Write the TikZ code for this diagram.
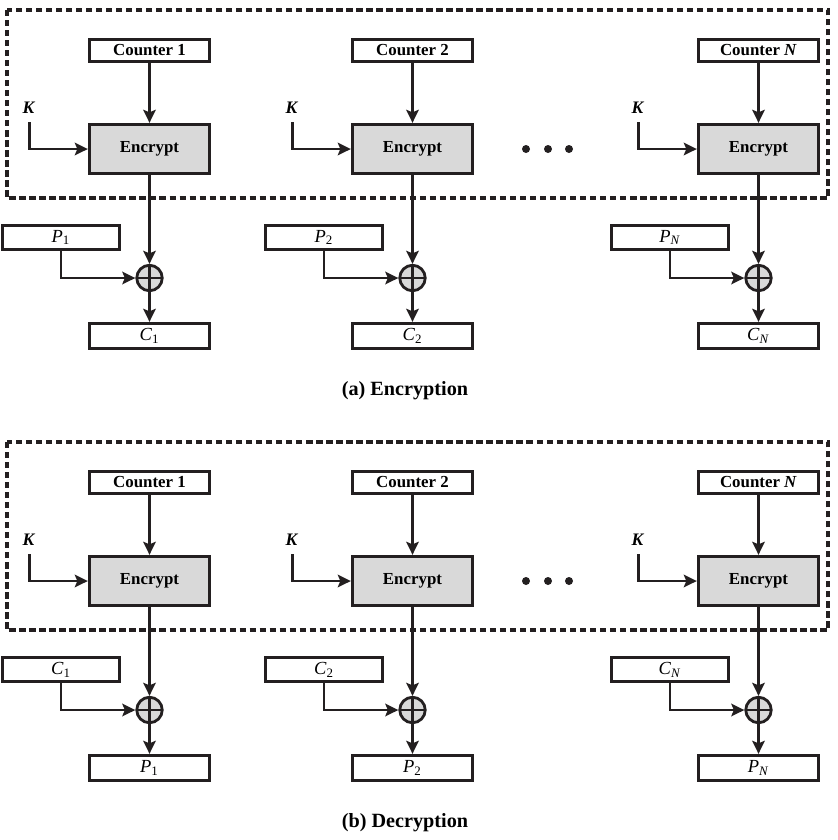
\documentclass[tikz,border=0pt]{standalone}
\usepackage{fontspec}
\setmainfont{Liberation Serif}
\usetikzlibrary{arrows.meta}
\definecolor{ink}{HTML}{231F20}
\definecolor{boxgray}{HTML}{D9D9D9}
\begin{document}
\begin{tikzpicture}[x=0.02cm,y=-0.02cm,
  box/.style={draw=ink,line width=1.9pt,fill=white,inner sep=0pt,minimum width=2.4cm,minimum height=0.45cm,font=\fontsize{9.6}{11}\selectfont\bfseries},
  encbox/.style={box,fill=boxgray,minimum height=0.98cm},
  inbox/.style={box,minimum width=2.35cm,minimum height=0.48cm,font=\fontsize{10.5}{12}\selectfont},
  outbox/.style={box,minimum height=0.5cm,font=\fontsize{10.5}{12}\selectfont},
  xorc/.style={circle,draw=ink,line width=1.6pt,fill=boxgray,minimum size=0.51cm,inner sep=0pt,
    path picture={\draw[ink,line width=1.6pt] (path picture bounding box.north) -- (path picture bounding box.south) (path picture bounding box.west) -- (path picture bounding box.east);}},
  arr/.style={draw=ink,line width=1.5pt,-{Stealth[length=2.6mm,width=2.5mm,inset=0.5mm]}},
  frame/.style={draw=ink,line width=2pt,dash pattern=on 3.6pt off 2.1pt},
  klab/.style={font=\fontsize{10}{12}\selectfont\bfseries\itshape,inner sep=0pt},
  captext/.style={font=\fontsize{11.5}{13}\selectfont\bfseries,inner sep=0pt}
]
\useasboundingbox (0,0) rectangle (838,840);
\foreach \pp/\oy/\inl/\outl/\capt in {a/0/P/C/{(a) Encryption}, b/432/C/P/{(b) Decryption}} {
  \draw[frame] (7,{10+\oy}) rectangle (828,{198+\oy});
  \foreach \i/\cx/\lab in {1/149.5/1, 2/412.5/2, 3/758.5/{\textit{N}}} {
    \node[box] (ctr\pp\i) at (\cx,{50.5+\oy}) {Counter \lab};
    \node[encbox] (enc\pp\i) at (\cx,{149+\oy}) {Encrypt};
    \node[inbox] (in\pp\i) at ({\cx-88.5},{237.5+\oy}) {\textit{\inl}\textsubscript{\lab}};
    \node[xorc] (x\pp\i) at (\cx,{278+\oy}) {};
    \node[outbox] (out\pp\i) at (\cx,{336+\oy}) {\textit{\outl}\textsubscript{\lab}};
    \node[klab] (k\pp\i) at ({\cx-121},{108+\oy}) {K};
    \coordinate (ks\pp\i) at ({\cx-120},{122+\oy});
    \draw[arr] (ctr\pp\i.south) -- (enc\pp\i.north);
    \draw[arr] (ks\pp\i) |- (enc\pp\i.west);
    \draw[arr] (enc\pp\i.south) -- (x\pp\i.north);
    \draw[arr] (in\pp\i.south) |- (x\pp\i.west);
    \draw[arr] (x\pp\i.south) -- (out\pp\i.north);
  }
  \foreach \dx in {526,548,569} {
    \fill[ink] (\dx,{149+\oy}) circle (0.08cm);
  }
  \node[captext] (cap\pp) at (405,{391+\oy}) {\capt};
}
\end{tikzpicture}
\end{document}
